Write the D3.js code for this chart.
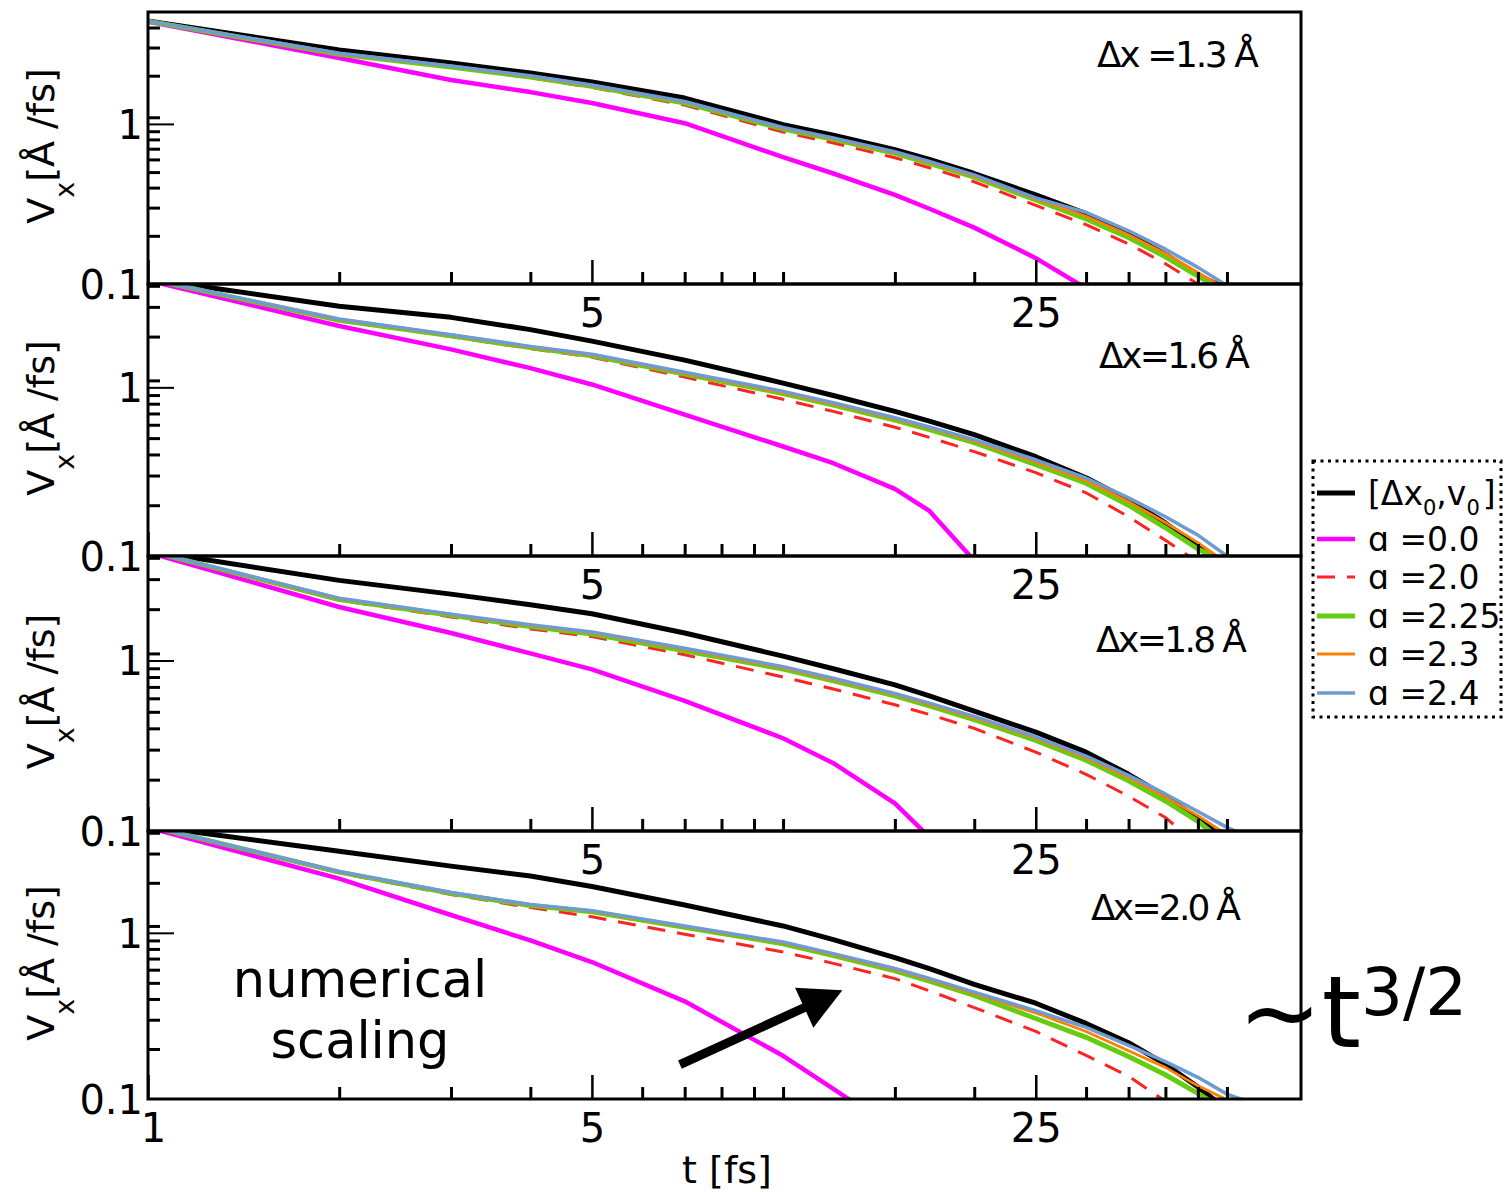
<!DOCTYPE html>
<html>
<head>
<meta charset="utf-8">
<script src="https://cdn.jsdelivr.net/npm/d3@7"></script>
<style>
  body { margin: 0; background: #fff; }
  svg { display: block; }
  text { font-family: "DejaVu Sans", sans-serif; fill: #000; }
</style>
</head>
<body>
<svg id="chart" width="1509" height="1192"></svg>
<script>
// ---- data -------------------------------------------------------------
// sampling times t [fs]
const times = [1, 2, 3, 4, 5, 7, 10, 12, 15, 17, 20, 25, 30, 35, 40, 45, 50, 55];

// Δx = 1.3 Å
const ref13    = [4.4, 2.9, 2.4, 2.08, 1.83, 1.45, 0.99, 0.85, 0.69, 0.6, 0.49, 0.36, 0.275, 0.205, 0.153, 0.114, 0.093, null];
const a00_13   = [4.35, 2.58, 1.88, 1.58, 1.35, 1.01, 0.62, 0.49, 0.36, 0.295, 0.225, 0.145, 0.094, null, null, null, null, null];
const a20_13   = [4.38, 2.72, 2.26, 1.94, 1.69, 1.31, 0.89, 0.76, 0.615, 0.532, 0.435, 0.31, 0.235, 0.178, 0.134, 0.1, 0.077, null];
const a225_13  = [4.38, 2.72, 2.27, 1.96, 1.72, 1.35, 0.93, 0.8, 0.655, 0.567, 0.465, 0.335, 0.255, 0.195, 0.148, 0.112, 0.088, null];
const a23_13   = [4.39, 2.74, 2.29, 1.98, 1.73, 1.37, 0.94, 0.808, 0.662, 0.574, 0.472, 0.34, 0.265, 0.203, 0.155, 0.118, 0.092, null];
const a24_13   = [4.4, 2.76, 2.3, 2.0, 1.75, 1.38, 0.95, 0.818, 0.67, 0.583, 0.48, 0.345, 0.28, 0.215, 0.165, 0.127, 0.098, 0.08];

// Δx = 1.6 Å
const ref16    = [4.4, 3.03, 2.6, 2.2, 1.88, 1.45, 1.06, 0.895, 0.72, 0.63, 0.525, 0.388, 0.291, 0.215, 0.157, 0.113, 0.084, null];
const a00_16   = [4.3, 2.31, 1.68, 1.3, 1.04, 0.69, 0.446, 0.355, 0.25, 0.185, 0.094, null, null, null, null, null, null, null];
const a20_16   = [4.4, 2.5, 2.0, 1.7, 1.51, 1.15, 0.849, 0.72, 0.58, 0.505, 0.416, 0.312, 0.237, 0.171, 0.124, 0.092, null, null];
const a225_16  = [4.4, 2.5, 2.02, 1.72, 1.54, 1.2, 0.92, 0.785, 0.64, 0.562, 0.47, 0.348, 0.27, 0.2, 0.147, 0.11, 0.091, null];
const a23_16   = [4.4, 2.52, 2.03, 1.73, 1.55, 1.21, 0.93, 0.795, 0.65, 0.572, 0.48, 0.36, 0.28, 0.21, 0.158, 0.12, 0.091, null];
const a24_16   = [4.4, 2.54, 2.05, 1.75, 1.57, 1.23, 0.947, 0.81, 0.66, 0.582, 0.49, 0.372, 0.29, 0.221, 0.171, 0.133, 0.1, 0.08];

// Δx = 1.8 Å
const ref18    = [4.4, 2.95, 2.45, 2.12, 1.88, 1.45, 1.06, 0.895, 0.72, 0.62, 0.505, 0.38, 0.29, 0.215, 0.16, 0.118, 0.088, null];
const a00_18   = [4.3, 2.06, 1.45, 1.1, 0.887, 0.58, 0.35, 0.25, 0.145, 0.092, null, null, null, null, null, null, null, null];
const a20_18   = [4.4, 2.26, 1.8, 1.53, 1.38, 1.08, 0.8, 0.68, 0.55, 0.482, 0.4, 0.29, 0.215, 0.16, 0.12, 0.083, null, null];
const a225_18  = [4.4, 2.28, 1.84, 1.58, 1.43, 1.14, 0.89, 0.76, 0.62, 0.542, 0.45, 0.34, 0.26, 0.197, 0.15, 0.114, 0.083, null];
const a23_18   = [4.4, 2.3, 1.86, 1.6, 1.45, 1.16, 0.905, 0.773, 0.63, 0.552, 0.46, 0.35, 0.268, 0.205, 0.158, 0.123, 0.095, null];
const a24_18   = [4.4, 2.32, 1.87, 1.62, 1.47, 1.18, 0.92, 0.786, 0.64, 0.562, 0.47, 0.357, 0.275, 0.212, 0.165, 0.13, 0.105, 0.09];

// Δx = 2.0 Å
const ref20    = [4.4, 3.1, 2.52, 2.2, 1.9, 1.47, 1.1, 0.91, 0.71, 0.608, 0.49, 0.377, 0.285, 0.218, 0.162, 0.118, 0.0865, null];
const a00_20   = [4.3, 2.12, 1.28, 0.9, 0.667, 0.387, 0.182, 0.115, 0.065, null, null, null, null, null, null, null, null, null];
const a20_20   = [4.4, 2.3, 1.7, 1.42, 1.25, 0.98, 0.767, 0.655, 0.53, 0.448, 0.355, 0.255, 0.183, 0.137, 0.097, null, null, null];
const a225_20  = [4.4, 2.32, 1.73, 1.46, 1.34, 1.08, 0.86, 0.73, 0.59, 0.512, 0.42, 0.305, 0.235, 0.18, 0.14, 0.108, 0.084, null];
const a23_20   = [4.4, 2.33, 1.74, 1.47, 1.35, 1.09, 0.87, 0.74, 0.6, 0.522, 0.43, 0.33, 0.255, 0.195, 0.155, 0.12, 0.099, null];
const a24_20   = [4.4, 2.34, 1.75, 1.48, 1.36, 1.1, 0.88, 0.75, 0.61, 0.532, 0.44, 0.34, 0.27, 0.21, 0.168, 0.135, 0.107, 0.094];

const panelLabels = ["Δx =1.3 Å", "Δx=1.6 Å", "Δx=1.8 Å", "Δx=2.0 Å"];
const panelSeries = [
  [ref13, a00_13, a20_13, a225_13, a23_13, a24_13],
  [ref16, a00_16, a20_16, a225_16, a23_16, a24_16],
  [ref18, a00_18, a20_18, a225_18, a23_18, a24_18],
  [ref20, a00_20, a20_20, a225_20, a23_20, a24_20]
];
const legendLabels = ["[Δx0,v0 ]", "ɑ =0.0", "ɑ =2.0", "ɑ =2.25", "ɑ =2.3", "ɑ =2.4"];

// axis ticks
const xMajorTicks = [1, 5, 25];
const xMinorTicks = [2, 3, 4, 6, 7, 8, 9, 10, 15, 20, 30, 35, 40, 45, 50];
const xLabelTicks = [5, 25];
const xLabelTicksBottom = [1, 5, 25];
const yMajorTicks = [1];
const yMinorTicks = [0.2, 0.3, 0.4, 0.5, 0.6, 0.7, 0.8, 0.9, 1.1, 2, 3, 4];
const yLabelTicks = [0.1, 1];

// ---- styles & layout --------------------------------------------------
const colors = ["#000000", "#ff00ff", "#ff2424", "#66cc11", "#ff8000", "#6e9bd2"];
const widths = [5, 4.5, 3, 5, 2.8, 3.5];
const dashes = [null, null, "18,12", null, null, null];

const plotLeft = 148, plotRight = 1301;
const panels = [
  { top: 12,  bottom: 284,  yMax: 5.0, labelY: 67 },
  { top: 284, bottom: 556,  yMax: 4.1, labelY: 368 },
  { top: 556, bottom: 831,  yMax: 4.1, labelY: 652 },
  { top: 831, bottom: 1099, yMax: 4.1, labelY: 920 }
];
const labelX = [1097, 1099, 1096, 1091];
const labelLen = [162, 151, 151, 150];

const svg = d3.select("#chart");
const x = d3.scaleLog().domain([1, 65.4]).range([plotLeft, plotRight]);
const defs = svg.append("defs");

panels.forEach((p, i) => {
  const y = d3.scaleLog().domain([0.1, p.yMax]).range([p.bottom, p.top]);
  p.y = y;
  const g = svg.append("g");

  defs.append("clipPath").attr("id", "clip" + i)
    .append("rect")
    .attr("x", plotLeft).attr("y", p.top)
    .attr("width", plotRight - plotLeft).attr("height", p.bottom - p.top);

  const line = d3.line()
    .defined(d => d[1] != null)
    .x(d => x(d[0])).y(d => y(d[1]));

  const curves = g.append("g").attr("clip-path", `url(#clip${i})`);
  panelSeries[i].forEach((vals, k) => {
    curves.append("path")
      .datum(times.map((t, j) => [t, vals[j]]))
      .attr("d", line)
      .attr("fill", "none")
      .attr("stroke", colors[k])
      .attr("stroke-width", widths[k])
      .attr("stroke-dasharray", dashes[k])
      .attr("stroke-linejoin", "round");
  });

  // bottom axis ticks (pointing inward)
  const xMinor = g.append("g").attr("transform", `translate(0,${p.bottom})`)
    .call(d3.axisBottom(x).tickValues(xMinorTicks).tickSizeInner(-12).tickSizeOuter(0).tickFormat(""));
  const xMajor = g.append("g").attr("transform", `translate(0,${p.bottom})`)
    .call(d3.axisBottom(x).tickValues(xMajorTicks).tickSizeInner(-24).tickSizeOuter(0).tickFormat(""));
  xMinor.selectAll(".tick line").attr("stroke-width", 3);
  xMajor.selectAll(".tick line").attr("stroke-width", 2.5);

  const xLab = g.append("g").attr("transform", `translate(0,${p.bottom})`)
    .call(d3.axisBottom(x).tickValues(i === 3 ? xLabelTicksBottom : xLabelTicks)
      .tickSize(0).tickFormat(d3.format("d")));
  xLab.selectAll("text").attr("y", 43).attr("dy", null)
    .attr("dx", d => d === 1 ? 5 : 0)
    .style("font-size", "40px").style("font-family", "DejaVu Sans");

  // left axis ticks
  const yMinor = g.append("g").attr("transform", `translate(${plotLeft},0)`)
    .call(d3.axisLeft(y).tickValues(yMinorTicks.filter(v => v < p.yMax)).tickSizeInner(-12).tickSizeOuter(0).tickFormat(""));
  const yMajor = g.append("g").attr("transform", `translate(${plotLeft},0)`)
    .call(d3.axisLeft(y).tickValues(yMajorTicks).tickSizeInner(-26).tickSizeOuter(0).tickFormat(""));
  yMinor.selectAll(".tick line").attr("stroke-width", 3);
  yMajor.selectAll(".tick line").attr("stroke-width", 2);

  const yLab = g.append("g").attr("transform", `translate(${plotLeft},0)`)
    .call(d3.axisLeft(y).tickValues(yLabelTicks).tickSize(0).tickPadding(5).tickFormat(d => String(d)));
  yLab.selectAll("text").attr("dy", "0.36em")
    .style("font-size", "40px").style("font-family", "DejaVu Sans");

  g.selectAll(".domain").remove();

  // frame
  g.append("rect")
    .attr("x", plotLeft).attr("y", p.top)
    .attr("width", plotRight - plotLeft).attr("height", p.bottom - p.top)
    .attr("fill", "none").attr("stroke", "#000").attr("stroke-width", 3);

  // y axis title
  const yt = g.append("text")
    .attr("transform", `translate(54,${(p.top + p.bottom) / 2 - 2}) rotate(-90)`)
    .attr("text-anchor", "middle")
    .style("font-size", "38px");
  yt.append("tspan").text("V");
  yt.append("tspan").attr("dy", 20).style("font-size", "27px").text("x");
  yt.append("tspan").attr("dy", -20).text("[Å /fs]");

  // panel label
  g.append("text")
    .attr("x", labelX[i]).attr("y", p.labelY)
    .attr("textLength", labelLen[i]).attr("lengthAdjust", "spacing")
    .style("font-size", "36px")
    .text(panelLabels[i]);
});

// x axis title
svg.append("text")
  .attr("x", 727).attr("y", 1183)
  .attr("text-anchor", "middle")
  .style("font-size", "38px")
  .text("t [fs]");

// annotation in the lowest panel
const yb = panels[3].y;
svg.append("text").attr("x", 360).attr("y", 997).attr("text-anchor", "middle")
  .style("font-size", "51px").text("numerical");
svg.append("text").attr("x", 360).attr("y", 1058).attr("text-anchor", "middle")
  .style("font-size", "51px").text("scaling");

// arrow, anchored in data coordinates of the lowest panel
const tail = [x(6.88), yb(0.161)];
const tip = [x(12.4), yb(0.452)];
const dxA = tip[0] - tail[0], dyA = tip[1] - tail[1];
const len = Math.hypot(dxA, dyA);
const ux = dxA / len, uy = dyA / len;
const headLen = 42, headHalf = 22;
const base = [tip[0] - ux * headLen, tip[1] - uy * headLen];
svg.append("line")
  .attr("x1", tail[0]).attr("y1", tail[1])
  .attr("x2", base[0] + ux * 4).attr("y2", base[1] + uy * 4)
  .attr("stroke", "#000").attr("stroke-width", 9);
svg.append("polygon")
  .attr("points", [
    tip,
    [base[0] - uy * headHalf, base[1] + ux * headHalf],
    [base[0] + uy * headHalf, base[1] - ux * headHalf]
  ].map(pt => pt.join(",")).join(" "))
  .attr("fill", "#000");

// power-law note
const pw = svg.append("text").attr("x", 1238).attr("y", 1047).style("font-size", "100px");
pw.append("tspan").text("~t");
pw.append("tspan").attr("dy", -32).style("font-size", "66px").text("3/2");

// legend
const legendRows = [493, 539, 577, 616, 654, 693];
const legend = svg.append("g");
legend.append("rect")
  .attr("x", 1313).attr("y", 461).attr("width", 188).attr("height", 256)
  .attr("fill", "none").attr("stroke", "#000").attr("stroke-width", 3)
  .attr("stroke-dasharray", "3,4.5");
legendLabels.forEach((lab, k) => {
  const ry = legendRows[k];
  legend.append("line")
    .attr("x1", 1317).attr("x2", 1355).attr("y1", ry).attr("y2", ry)
    .attr("stroke", colors[k]).attr("stroke-width", widths[k])
    .attr("stroke-dasharray", dashes[k]);
  const t = legend.append("text").attr("x", 1368).attr("y", ry + 12).style("font-size", "33px");
  if (k === 0) {
    t.append("tspan").text("[Δx");
    t.append("tspan").attr("dy", 10).style("font-size", "21px").text("0");
    t.append("tspan").attr("dy", -10).text(",v");
    t.append("tspan").attr("dy", 10).style("font-size", "21px").text("0");
    t.append("tspan").attr("dy", -10).attr("dx", 3).text("]");
  } else {
    t.text(lab);
  }
});
</script>
</body>
</html>
